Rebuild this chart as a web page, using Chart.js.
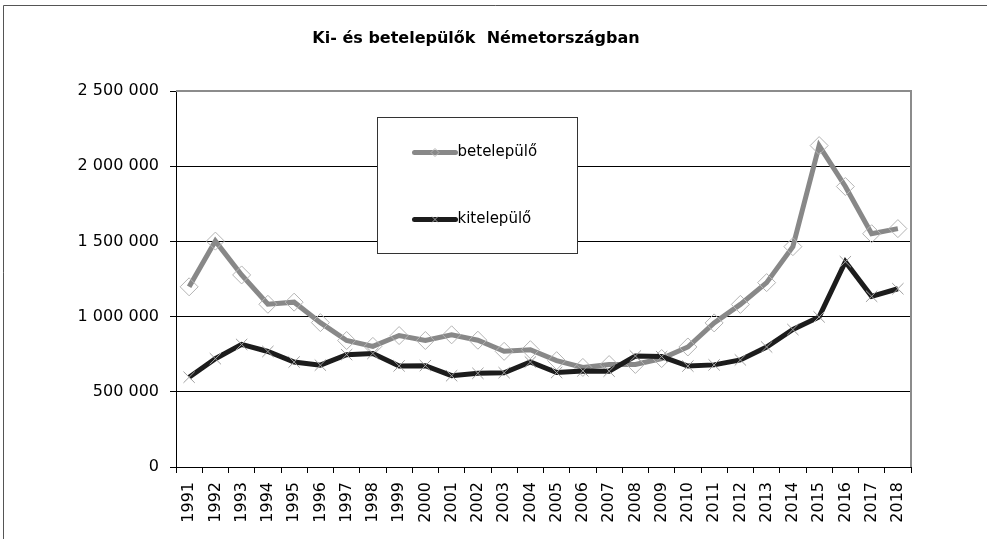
<!DOCTYPE html>
<html>
<head>
<meta charset="utf-8">
<script src="https://cdn.jsdelivr.net/npm/chart.js@4/dist/chart.umd.min.js"></script>
<style>
  html, body { margin: 0; padding: 0; background: #ffffff; }
  #wrap { width: 987px; height: 539px; position: relative; }
  canvas { display: block; }
</style>
</head>
<body>
<div id="wrap"><canvas id="c" width="987" height="539"></canvas></div>
<script>
// ---- data ----
const chartTitle = 'Ki- és betelepülők  Németországban';
const years = ['1991','1992','1993','1994','1995','1996','1997','1998','1999','2000',
  '2001','2002','2003','2004','2005','2006','2007','2008','2009','2010',
  '2011','2012','2013','2014','2015','2016','2017','2018'];
const seriesNames = ['betelepülő', 'kitelepülő'];
const betelepulo = [1198000,1502000,1277000,1082000,1096000,960000,841000,802000,874000,841000,
  879000,843000,769000,780000,707000,662000,681000,682000,721000,798000,
  958000,1081000,1226000,1465000,2137000,1865000,1551000,1585000];
const kitelepulo = [597000,720000,815000,768000,698000,677000,747000,755000,672000,674000,
  607000,623000,627000,698000,628000,639000,637000,738000,734000,671000,
  679000,712000,798000,914000,998000,1365000,1135000,1185000];
const yMin = 0, yMax = 2500000, yStep = 500000;

function fmt(v) {
  return String(v).replace(/\B(?=(\d{3})+(?!\d))/g, ' ');
}

const FONT = "'DejaVu Sans', sans-serif";

const decorPlugin = {
  id: 'decor',
  beforeDraw(chart) {
    const ctx = chart.ctx;
    ctx.save();
    ctx.fillStyle = '#ffffff';
    ctx.fillRect(0, 0, chart.width, chart.height);
    ctx.restore();
  },
  afterDraw(chart) {
    const ctx = chart.ctx;
    const a = chart.chartArea;
    ctx.save();
    // outer frame
    ctx.strokeStyle = '#555555';
    ctx.lineWidth = 1;
    ctx.beginPath();
    ctx.moveTo(3.5, chart.height);
    ctx.lineTo(3.5, 5.5);
    ctx.lineTo(chart.width, 5.5);
    ctx.stroke();
    // plot area border (top & right)
    ctx.strokeStyle = '#8c8c8c';
    ctx.lineWidth = 2;
    ctx.beginPath();
    ctx.moveTo(a.left, a.top);
    ctx.lineTo(a.right, a.top);
    ctx.lineTo(a.right, a.bottom);
    ctx.stroke();
    // title
    ctx.fillStyle = '#000000';
    ctx.font = "bold 16px " + FONT;
    ctx.textAlign = 'center';
    ctx.textBaseline = 'alphabetic';
    ctx.fillText(chartTitle, 476, 43);
    // legend box
    const bx = a.left + 201.5, by = a.top + 26.5, bw = 200, bh = 136;
    ctx.fillStyle = '#ffffff';
    ctx.fillRect(bx, by, bw, bh);
    ctx.strokeStyle = '#333333';
    ctx.lineWidth = 1;
    ctx.strokeRect(bx, by, bw, bh);
    chart.data.datasets.forEach((ds, i) => {
      const ly = by + 35 + i * 67;
      const lx0 = bx + 37, lx1 = bx + 78;
      ctx.strokeStyle = ds.borderColor;
      ctx.lineWidth = 5;
      ctx.lineCap = 'round';
      ctx.beginPath();
      ctx.moveTo(lx0, ly);
      ctx.lineTo(lx1, ly);
      ctx.stroke();
      ctx.lineCap = 'butt';
      ctx.fillStyle = 'rgba(0,0,0,0)';
      ctx.strokeStyle = ds.pointBorderColor;
      ctx.lineWidth = 1;
      Chart.helpers.drawPoint(ctx, {pointStyle: ds.pointStyle, radius: 4, rotation: 0, borderWidth: 1}, (lx0 + lx1) / 2, ly);
      ctx.fillStyle = '#000000';
      ctx.font = "15px " + FONT;
      ctx.textAlign = 'left';
      ctx.textBaseline = 'middle';
      ctx.fillText(ds.label, lx1 + 2, ly);
    });
    ctx.restore();
  }
};

new Chart(document.getElementById('c'), {
  type: 'line',
  data: {
    labels: years,
    datasets: [
      {
        label: seriesNames[0],
        data: betelepulo,
        borderColor: '#888888',
        backgroundColor: 'rgba(0,0,0,0)',
        borderWidth: 5,
        tension: 0,
        pointStyle: 'rectRot',
        pointRadius: 9,
        pointBorderWidth: 1,
        pointBorderColor: '#b4b4b4',
        pointBackgroundColor: 'rgba(0,0,0,0)',
        order: 1
      },
      {
        label: seriesNames[1],
        data: kitelepulo,
        borderColor: '#1c1c1c',
        backgroundColor: 'rgba(0,0,0,0)',
        borderWidth: 5,
        tension: 0,
        pointStyle: 'crossRot',
        pointRadius: 8,
        pointBorderWidth: 1,
        pointBorderColor: '#a0a0a0',
        pointBackgroundColor: 'rgba(0,0,0,0)',
        order: 0
      }
    ]
  },
  options: {
    responsive: false,
    animation: false,
    devicePixelRatio: 1,
    layout: { padding: { left: 0, top: 91, right: 76, bottom: 0 } },
    plugins: {
      legend: { display: false },
      title: { display: false },
      tooltip: { enabled: false }
    },
    scales: {
      x: {
        type: 'category',
        offset: true,
        afterFit(scale) { scale.height = 72; },
        grid: {
          offset: true,
          drawOnChartArea: false,
          drawTicks: true,
          tickLength: 6,
          color: '#000000',
          lineWidth: 1
        },
        border: { display: true, color: '#000000', width: 1 },
        ticks: {
          autoSkip: false,
          minRotation: 90,
          maxRotation: 90,
          padding: 9,
          color: '#000000',
          font: { family: FONT, size: 16 }
        }
      },
      y: {
        min: yMin,
        max: yMax,
        afterFit(scale) { scale.width = 176; },
        grid: {
          drawOnChartArea: true,
          drawTicks: true,
          tickLength: 6,
          color: '#000000',
          lineWidth: 1
        },
        border: { display: true, color: '#000000', width: 1 },
        ticks: {
          stepSize: yStep,
          padding: 11,
          color: '#000000',
          font: { family: FONT, size: 16 },
          callback: (v) => fmt(v)
        }
      }
    }
  },
  plugins: [decorPlugin]
});
</script>
</body>
</html>
